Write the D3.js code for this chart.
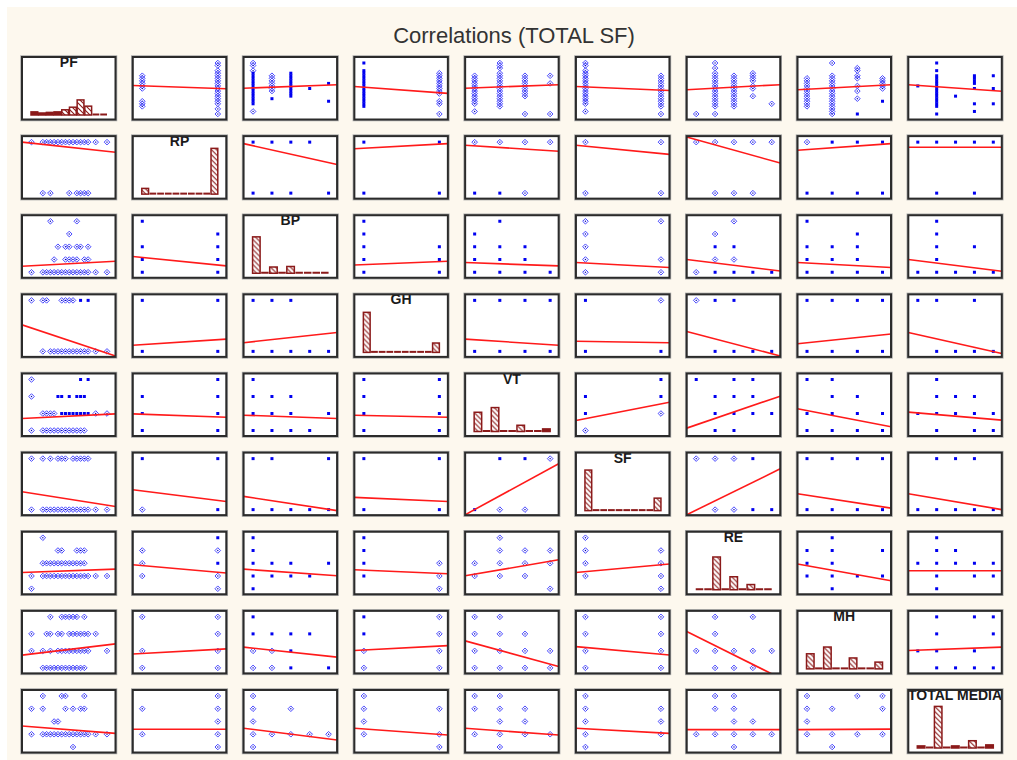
<!DOCTYPE html>
<html><head><meta charset="utf-8">
<script src="https://cdn.jsdelivr.net/npm/d3@7"></script>
<style>body{margin:0;background:#fff} text{font-family:"Liberation Sans",Arial,sans-serif}</style>
</head><body><svg id="c" width="1017" height="760"></svg>
<script>
// ---------------- DATA ----------------
const variables = ["PF","RP","BP","GH","VT","SF","RE","MH","TOTAL MEDIA"];
const levelCounts = [21,2,5,2,4,2,5,4,5];   // number of distinct levels per variable
const chartTitle = "Correlations (TOTAL SF)";

// histogram bins (percent of cases) on the diagonal
const histPF = [6,2,5,6,10,15,29,17,0,0];
const histRP = [11,0,0,0,0,0,0,0,0,88];
const histBP = [70,0,12,0,13,0,0,0,0];
const histGH = [77,0,0,0,0,0,0,0,0,18];
const histVT = [37,0,46,0,0,12,0,0,5];
const histSF = [78,0,0,0,0,0,0,0,0,24];
const histRE = [0,0,63,0,25,0,10,0,0];
const histMH = [29,0,42,0,0,21,0,0,13];
const histTM = [4,0,80,0,4,0,14,0,6];

// point groups per panel: column 0 panels -> [yLevel,[xLevels],marker]; others -> [xLevel,[yLevels],marker]
// marker: "s" filled square, "d" open diamond
const rowPoints0 = [null,
 [[0,[15,14,13,12,11,10,5,4,3],"d"],[1,[20,19,17,16,15,14,13,12,11,10,9,8,7,6,5,4,2,0],"d"]],
 [[0,[20,19,17],"d"],[0,[16,15,14,13,12,11,10,9,8,7,6,5,4],"s"],[0,[1],"d"],[1,[15,14,13,12,11,10,9],"d"],[1,[6],"s"],[2,[16,15,14,13,12,11,10,9,8,7],"s"],[3,[10],"s"],[4,[12,5],"s"]],
 [[0,[20,17,16,15,14,13,12,11,10,9,8,7,6,5,4,3],"s"],[1,[16,15,14,13,12,11,10,9,8,5,4,0],"d"]],
 [[0,[15,14,13,12,11,10,9,8,7,6,5,4,1],"d"],[1,[20,19,18,16,15,14,13,12,11,10,9,8,7,6,5,4,3],"d"],[2,[15,14,13,12,11,10,9,8,7,0],"d"],[3,[15,12,0],"d"]],
 [[0,[20,19,17,16,15,14,13,12,11,10,9,8,7,6,5,4,1],"d"],[1,[15,14,13,12,11,10,9,8,7,6,5,4,3,0],"d"]],
 [[0,[0],"d"],[1,[20,18,16,15,14,13,12,11,10,9,8,7,6,5,4,3,0],"d"],[2,[15,14,13,12,11,10,9,8,7,6,5,4,3],"d"],[3,[16,15,14,13,11,10,7],"d"],[4,[4],"d"]],
 [[0,[14,13,12,11,10,9,8,7,6,5,4,3],"d"],[1,[20,15,14,13,12,11,10,9,8,7,6,5,4,3,2,1,0],"d"],[2,[18,17,15,14,11,9,6],"d"],[2,[0],"s"],[3,[14,13,12,11,10],"d"],[3,[5],"s"]],
 [[0,[11],"s"],[1,[20,17,15,14,13,12,11,10,9,8,7,6,5,4,3,0],"s"],[2,[7],"s"],[3,[15,14,13,12,10,4,1],"s"],[4,[15,10,4],"s"]]
];
const rowPoints1 = [
 [[1,[0,3,4,5,6,7,8,9,10,11,12,13,14,15,17,20],"d"],[0,[3,5,10,12,13,14,15],"d"]],
 null,
 [[0,[1,0],"s"],[1,[1,0],"s"],[2,[1,0],"s"],[3,[1],"s"],[4,[0],"s"]],
 [[0,[1,0],"s"],[1,[1,0],"s"]],
 [[0,[1],"d"],[1,[1],"d"],[2,[1,0],"d"],[3,[1],"d"],[0,[0],"s"],[1,[0],"s"]],
 [[0,[1,0],"d"],[1,[1,0],"d"]],
 [[0,[1],"d"],[1,[1,0],"d"],[2,[1,0],"d"],[3,[1,0],"d"],[4,[1],"d"]],
 [[0,[1],"d"],[0,[0],"s"],[1,[1,0],"s"],[2,[1,0],"s"],[3,[1,0],"s"]],
 [[0,[1],"s"],[1,[1,0],"s"],[2,[1],"s"],[3,[1,0],"s"],[4,[1],"s"]]
];
const rowPoints2 = [
 [[4,[5,12],"d"],[3,[10],"d"],[2,[7,9,10,12,13,15],"d"],[1,[6,9,10,11,12,14,15],"d"],[0,[0,3,4,5,6,7,8,9,10,11,12,13,14,15,17,20],"d"]],
 [[0,[4,2,1,0],"s"],[1,[3,2,1,0],"s"]],
 null,
 [[0,[4,3,2,1,0],"s"],[1,[2,1,0],"s"]],
 [[0,[3,2,1,0],"s"],[1,[4,2,1,0],"s"],[2,[2,1,0],"s"],[3,[0],"s"]],
 [[0,[4,3,2,1,0],"d"],[1,[4,1,0],"d"]],
 [[0,[0],"d"],[1,[3,1],"d"],[1,[2,0],"s"],[2,[4,1],"d"],[2,[2,0],"s"],[3,[0],"s"],[4,[0],"s"]],
 [[0,[4,2,1,0],"s"],[1,[2,1,0],"s"],[2,[3,2,1,0],"s"],[3,[0],"s"]],
 [[0,[0],"s"],[1,[4,3,2,1,0],"s"],[2,[0],"s"],[3,[2,0],"s"],[4,[0],"s"]]
];
const rowPoints3 = [
 [[1,[0,3,4,8,9,10,11],"d"],[1,[13,15],"s"],[0,[3,5,6,7,8,9,10,11,12,13,14,15,17,20],"d"]],
 [[0,[1,0],"s"],[1,[1,0],"s"]],
 [[0,[1,0],"s"],[1,[1,0],"s"],[2,[1,0],"s"],[3,[0],"s"],[4,[0],"s"]],
 null,
 [[0,[1,0],"s"],[1,[1,0],"s"],[2,[1,0],"s"],[3,[1,0],"s"]],
 [[0,[1,0],"s"],[1,[1],"d"],[1,[0],"s"]],
 [[0,[1],"d"],[1,[1,0],"s"],[2,[1,0],"s"],[3,[0],"s"],[4,[0],"s"]],
 [[0,[1,0],"s"],[1,[1,0],"s"],[2,[1,0],"s"],[3,[1,0],"s"]],
 [[0,[1],"s"],[1,[1,0],"s"],[2,[0],"s"],[3,[1,0],"s"],[4,[0],"s"]]
];
const rowPoints4 = [
 [[3,[0],"d"],[3,[13,15],"s"],[2,[0],"d"],[2,[7,8,10,12,13,14],"s"],[1,[3,4,5,6,17,20],"d"],[1,[8,9,10,11,12,13,14,15],"s"],[0,[0,3,4,5,6,7,8,9,10,11,12,13,14],"d"]],
 [[0,[2,1,0],"s"],[1,[3,2,1,0],"s"]],
 [[0,[3,2,1,0],"s"],[1,[2,1,0],"s"],[2,[2,1,0],"s"],[3,[0],"s"],[4,[1],"s"]],
 [[0,[3,2,1,0],"s"],[1,[3,2,1,0],"s"]],
 null,
 [[0,[2,1],"s"],[0,[0],"d"],[1,[3,2],"s"],[1,[1],"d"]],
 [[0,[3],"s"],[1,[2,1,0],"s"],[2,[3,2,1,0],"s"],[3,[3,2,1],"s"],[4,[1],"s"]],
 [[0,[3,1,0],"s"],[1,[3,2,1,0],"s"],[2,[2,1,0],"s"],[3,[1,0],"s"]],
 [[0,[1],"s"],[1,[3,2,1,0],"s"],[2,[2,1],"s"],[3,[2,1,0],"s"],[4,[1,0],"s"]]
];
const rowPoints5 = [
 [[1,[0,3,5,7,8,9,11,12,13,14,15],"d"],[0,[0,3,4,5,6,7,8,9,10,11,12,13,14,15,17,20],"d"]],
 [[0,[1],"s"],[0,[0],"d"],[1,[1,0],"s"]],
 [[0,[1,0],"s"],[1,[1,0],"s"],[2,[0],"s"],[3,[0],"s"],[4,[1,0],"s"]],
 [[0,[1,0],"s"],[1,[1,0],"s"]],
 [[0,[0],"s"],[1,[1],"s"],[1,[0],"d"],[2,[1],"s"],[2,[0],"d"],[3,[1],"d"]],
 null,
 [[0,[1],"d"],[1,[1,0],"d"],[2,[1,0],"d"],[3,[1,0],"s"],[4,[0],"s"]],
 [[0,[1,0],"s"],[1,[1,0],"s"],[2,[1,0],"s"],[3,[1,0],"s"]],
 [[0,[0],"s"],[1,[1,0],"s"],[2,[1,0],"s"],[3,[1,0],"s"],[4,[0],"s"]]
];
const rowPoints6 = [
 [[4,[3],"d"],[3,[7,8,12,13,14],"d"],[2,[3,4,5,6,7,8,9,10,11,12,13,14],"d"],[1,[0,3,4,5,6,7,8,9,10,11,12,13,14,15,17,20],"d"],[0,[0],"d"]],
 [[0,[3,2,1],"d"],[1,[4,2],"s"],[1,[3,1,0],"d"]],
 [[0,[4,3,2,1,0],"s"],[1,[2,1],"s"],[2,[2,1],"s"],[3,[1],"s"],[4,[2],"s"]],
 [[0,[4,3,2,1],"s"],[1,[2,1,0],"d"]],
 [[0,[2,1],"d"],[1,[4,3,2,1],"d"],[2,[3,2,1],"d"],[3,[3,2,0],"d"]],
 [[0,[4,3,2,1],"d"],[1,[3,2,1,0],"d"]],
 null,
 [[0,[3,2,1],"s"],[1,[4,3,2,1,0],"s"],[2,[1],"s"],[3,[3,1],"s"]],
 [[0,[2],"s"],[1,[4,3,2,1,0],"s"],[2,[3,2],"s"],[3,[2,1],"s"],[4,[2,1],"s"]]
];
const rowPoints7 = [
 [[3,[5,8,9,10,11,12,14],"d"],[2,[0,4,5,7,8,10,11,12,13,14,15,17],"d"],[1,[0,3,5,7,8,9,10,11,12,13,14,15,20],"d"],[0,[3,4,5,6,7,8,9,10,11,12,13,14],"d"]],
 [[0,[3,1,0],"d"],[1,[3,2,1,0],"d"]],
 [[0,[3,2],"s"],[0,[1,0],"d"],[1,[2],"s"],[1,[1,0],"d"],[2,[2,1,0],"s"],[3,[2],"s"],[4,[0],"s"]],
 [[0,[3,2],"s"],[0,[1,0],"d"],[1,[3,2,1,0],"d"]],
 [[0,[3,2,1,0],"d"],[1,[3,2,1,0],"d"],[2,[2,1,0],"d"],[3,[1,0],"d"]],
 [[0,[3,2,1,0],"d"],[1,[3,2,1,0],"d"]],
 [[0,[1],"d"],[1,[3,2,1,0],"d"],[2,[1,0],"d"],[3,[3,1,0],"d"],[4,[1],"d"]],
 null,
 [[0,[1],"s"],[1,[3,2,1,0],"s"],[2,[0],"s"],[3,[3,1,0],"s"],[4,[3,2,0],"s"]]
];
const rowPoints8 = [
 [[4,[3,8,9,14],"d"],[3,[0,3,9,11,13,14],"d"],[2,[6,7],"d"],[1,[0,3,4,5,6,7,8,9,10,11,12,13,14,15,17,20],"d"],[0,[11],"d"]],
 [[0,[3,1],"d"],[1,[4,3,2,1,0],"d"]],
 [[0,[4,3,2,1,0],"d"],[1,[1],"d"],[2,[3,1],"d"],[3,[1],"d"],[4,[1],"d"]],
 [[0,[4,3,2,1],"d"],[1,[3,1,0],"d"]],
 [[0,[4,3,1],"d"],[1,[4,3,2,1,0],"d"],[2,[3,2,1],"d"],[3,[1],"d"]],
 [[0,[4,3,2,1,0],"d"],[1,[3,2,1],"d"]],
 [[0,[1],"d"],[1,[4,3,1],"d"],[2,[4,3,2,1,0],"d"],[3,[2,1],"d"],[4,[1],"d"]],
 [[0,[4,3,2,1],"d"],[1,[3,1,0],"d"],[2,[4,1],"d"],[3,[4,3,1],"d"]],
 null
];

// fitted regression line per panel: [y at left edge, y at right edge] in y-variable level units
const fitLines = [
 [null,[11.2,9.9],[10.1,11.5],[10.8,8.1],[10.1,11.5],[10.8,9.2],[9.5,11.5],[9.5,11.5],[11.5,8.9]],
 [[1.0,0.8],null,[0.97,0.56],[0.87,0.97],[0.94,0.82],[0.94,0.76],[1.1,0.59],[0.84,0.97],[0.9,0.9]],
 [[0.47,0.86],[1.23,0.5],null,[0.57,0.86],[0.76,0.5],[0.76,0.37],[1.0,0.1],[0.76,0.37],[1.0,0.08]],
 [[0.52,-0.09],[0.12,0.24],[0.17,0.37],null,[0.24,0.12],[0.2,0.17],[0.39,-0.09],[0.15,0.34],[0.37,-0.04]],
 [[0.71,0.98],[0.98,0.78],[0.9,0.71],[0.9,0.78],null,[0.59,1.66],[0.14,2.02],[1.28,0.22],[1.08,0.61]],
 [[0.35,0.06],[0.39,0.16],[0.26,-0.02],[0.24,0.16],[-0.1,0.9],null,[-0.1,0.8],[0.31,0.03],[0.31,0.0]],
 [[1.28,1.54],[1.88,1.23],[1.54,1.02],[1.49,1.18],[1.02,2.27],[1.28,1.94],null,[1.94,0.63],[1.41,1.41]],
 [[0.75,1.41],[0.82,1.12],[1.22,0.63],[1.02,1.31],[1.59,0.08],[1.25,0.76],[2.14,-0.6],null,[1.02,1.22]],
 [[1.65,1.07],[1.39,1.39],[1.47,0.55],[1.47,0.94],[1.47,0.94],[1.47,1.07],[1.36,1.36],[1.36,1.4],null]
];

// ---------------- DRAW ----------------
const histograms = [histPF,histRP,histBP,histGH,histVT,histSF,histRE,histMH,histTM];
const rowPoints = [rowPoints0,rowPoints1,rowPoints2,rowPoints3,rowPoints4,rowPoints5,rowPoints6,rowPoints7,rowPoints8];

const svg = d3.select("#c");
svg.append("rect").attr("x",7).attr("y",7).attr("width",1010).attr("height",753).attr("fill","#fdf8ee");
svg.append("text").attr("x",514).attr("y",43).attr("text-anchor","middle")
  .attr("font-size",22).attr("fill","#333").text(chartTitle);

const W = 93.5, H = 62.5;
const colX = d3.scaleLinear().domain([0,8]).range([22,908.3]);
const rowY = d3.scaleLinear().domain([0,8]).range([57,690]);

const defs = svg.append("defs");
defs.append("clipPath").attr("id","clip").append("rect").attr("x",0).attr("y",0).attr("width",W).attr("height",H);
const pat = defs.append("pattern").attr("id","hatch").attr("patternUnits","userSpaceOnUse")
  .attr("width",5).attr("height",5);
pat.append("rect").attr("width",5).attr("height",5).attr("fill","#fff");
pat.append("path").attr("d","M-1,-1 L6,6 M-1,4 L1,6 M4,-1 L6,1").attr("stroke","#8b1a1a").attr("stroke-width",1.1);

const barColor = "#8b1a1a";

for (let r = 0; r < 9; r++) {
  for (let c = 0; c < 9; c++) {
    const g = svg.append("g").attr("transform",`translate(${colX(c)},${rowY(r)})`);
    g.append("rect").attr("x",-1).attr("y",-1).attr("width",W+2).attr("height",H+2)
      .attr("fill","none").attr("stroke","#aaa").attr("stroke-width",1.5);
    g.append("rect").attr("width",W).attr("height",H).attr("fill","#fff");
    const inner = g.append("g").attr("clip-path","url(#clip)");
    if (r === c) {
      const vals = histograms[r];
      const xb = d3.scaleBand().domain(d3.range(vals.length)).range([9,85]).paddingInner(0.12);
      const hy = d3.scaleLinear().domain([0,100]).range([0,52]);
      const base = 58;
      vals.forEach((v,i) => {
        if (v <= 0) {
          inner.append("rect").attr("x",xb(i)).attr("y",base-1.5).attr("width",xb.bandwidth())
            .attr("height",2).attr("fill",barColor);
        } else {
          const h = Math.max(hy(v),2);
          inner.append("rect").attr("x",xb(i)).attr("y",base-h).attr("width",xb.bandwidth())
            .attr("height",h).attr("fill", h>4 ? "url(#hatch)" : barColor)
            .attr("stroke",barColor).attr("stroke-width",1.5);
        }
      });
      g.append("text").attr("x",W/2).attr("y",10).attr("text-anchor","middle")
        .attr("font-size",14).attr("font-weight","bold").attr("fill","#1a1a1a").text(variables[r]);
    } else {
      const xs = d3.scaleLinear().domain([0,levelCounts[c]-1]).range([9.5,85]);
      const ys = d3.scaleLinear().domain([0,levelCounts[r]-1]).range([57,6]);
      const pts = [];
      rowPoints[r][c].forEach(([a,bs,m]) => {
        bs.forEach(b => pts.push(c === 0 ? {x:b,y:a,m} : {x:a,y:b,m}));
      });
      pts.forEach(p => {
        const px = xs(p.x), py = ys(p.y);
        if (p.m === "s") {
          inner.append("rect").attr("x",px-1.5).attr("y",py-1.5).attr("width",3).attr("height",3).attr("fill","#0000f0");
        } else {
          inner.append("path").attr("d",`M${px},${py-2.8}L${px+2.8},${py}L${px},${py+2.8}L${px-2.8},${py}Z`)
            .attr("fill","none").attr("stroke","#4a4aff").attr("stroke-width",1);
          inner.append("rect").attr("x",px-0.6).attr("y",py-0.6).attr("width",1.2).attr("height",1.2).attr("fill","#0000b0");
        }
      });
      const f = fitLines[r][c];
      inner.append("line").attr("x1",0).attr("y1",ys(f[0])).attr("x2",W).attr("y2",ys(f[1]))
        .attr("stroke","#ff1a1a").attr("stroke-width",1.6);
    }
    g.append("rect").attr("width",W).attr("height",H).attr("fill","none")
      .attr("stroke","#2b2b2b").attr("stroke-width",2);
  }
}
</script></body></html>
